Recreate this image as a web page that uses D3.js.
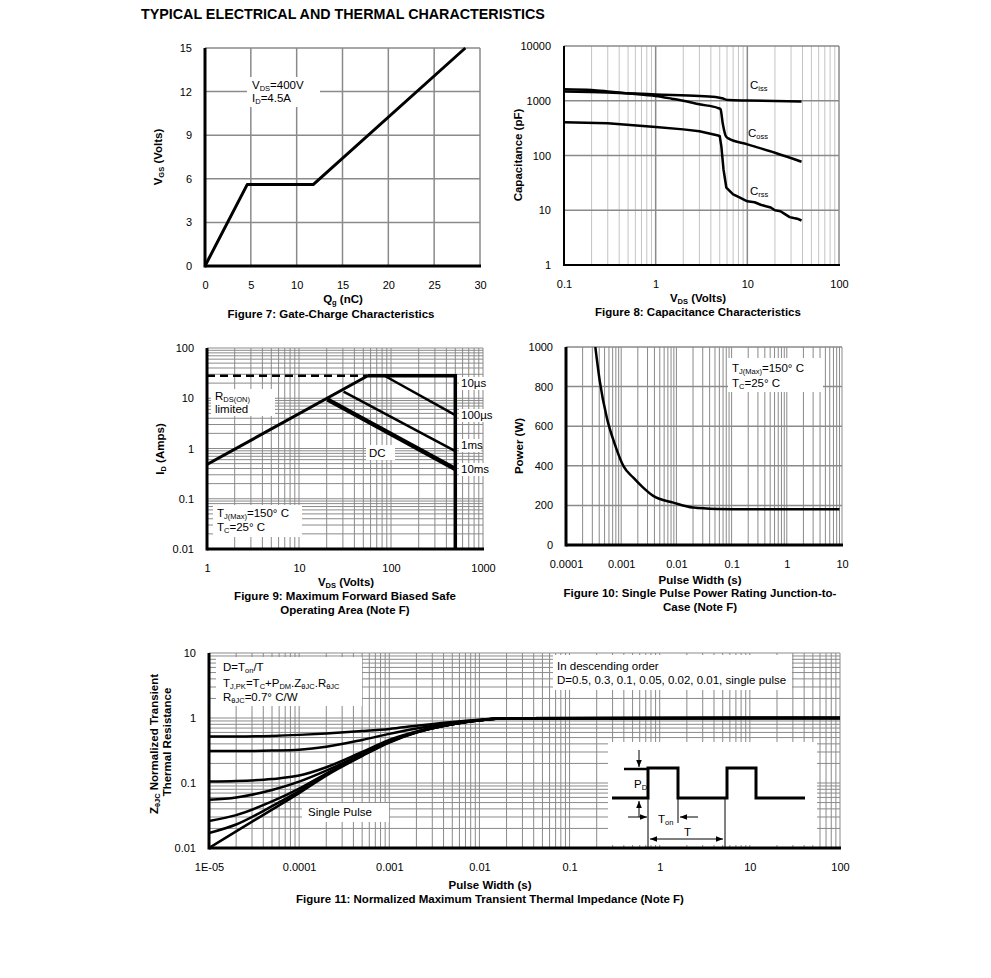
<!DOCTYPE html>
<html>
<head>
<meta charset="utf-8">
<script src="https://cdn.jsdelivr.net/npm/d3@7"></script>
<style>
body { margin: 0; background: #fff; }
svg { display: block; }
text { font-family: "Liberation Sans", Arial, sans-serif; fill: #000; }
.ttl { font-size: 11.5px; font-weight: bold; }
.note { font-size: 11.5px; }
</style>
</head>
<body>
<svg id="chart" width="991" height="978"></svg>
<script>
// ---- Figure 7: gate charge
const qg = [0, 4.6, 11.8, 28.4]
const vgs = [0, 5.6, 5.6, 15]
const qgTicks = [0, 5, 10, 15, 20, 25, 30]
const vgsTicks = [0, 3, 6, 9, 12, 15]

// ---- Figure 8: capacitance
const cissV = [0.1, 0.3, 1, 3, 4.8, 5.3, 6.2, 10, 20, 39]
const ciss = [1480, 1420, 1300, 1220, 1150, 1110, 1030, 1010, 990, 970]
const cossV = [0.1, 0.2, 0.3, 0.5, 1, 1.5, 2, 3, 4.8, 5.1, 5.4, 5.8, 6.2, 10, 20, 39]
const coss = [1630, 1570, 1480, 1360, 1220, 1090, 1000, 860, 735, 700, 380, 230, 205, 160, 112, 77]
const crssV = [0.1, 0.3, 1, 2, 3, 4.8, 5.0, 5.2, 5.5, 5.9, 7, 8, 10, 12, 14, 16, 18, 20, 23, 26, 29, 32, 36, 39]
const crss = [406, 390, 330, 300, 278, 232, 225, 150, 55, 26, 19.5, 17.5, 14.6, 14.0, 12.6, 11.8, 11.2, 10.0, 9.6, 8.4, 7.5, 7.2, 6.9, 6.5]
const capXTicks = [0.1, 1, 10, 100]
const capYTicks = [1, 10, 100, 1000, 10000]

// ---- Figure 9: safe operating area
const soaRdsV = [1, 56], soaRdsI = [0.48, 28]
const soaDashV = [1, 56], soaDashI = [28, 28]
const soa10usV = [56, 500, 500], soa10usI = [28, 28, 0.01]
const soa100usV = [85, 500], soa100usI = [28, 4.6]
const soa1msV = [30.5, 500], soa1msI = [13.5, 0.89]
const soaDcV = [20.3, 500], soaDcI = [9.5, 0.39]
const soaXTicks = [1, 10, 100, 1000]
const soaYTicks = [0.01, 0.1, 1, 10, 100]

// ---- Figure 10: single pulse power
const pwT = [3.4e-4, 4.1e-4, 5.5e-4, 7.7e-4, 1.1e-3, 1.66e-3, 2.5e-3, 3.8e-3, 8.8e-3, 0.02, 0.054, 0.2, 1, 9]
const pwP = [1000, 826, 642, 507, 398, 340, 290, 248, 214, 189, 182, 180, 180, 180]
const pwXTicks = [1e-4, 1e-3, 1e-2, 0.1, 1, 10]
const pwXLabels = ['0.0001', '0.001', '0.01', '0.1', '1', '10']
const pwYTicks = [0, 200, 400, 600, 800, 1000]

// ---- Figure 11: transient thermal impedance
const zthT = [1e-5, 2e-5, 5e-5, 1e-4, 2e-4, 5e-4, 1e-3, 2e-3, 5e-3, 1e-2, 2e-2, 100]
const zthD05 = [0.52, 0.52, 0.53, 0.55, 0.58, 0.63, 0.68, 0.76, 0.87, 0.94, 0.99, 1]
const zthD03 = [0.31, 0.31, 0.315, 0.325, 0.36, 0.46, 0.57, 0.69, 0.84, 0.93, 0.99, 1]
const zthD01 = [0.105, 0.107, 0.115, 0.13, 0.175, 0.3, 0.46, 0.62, 0.81, 0.92, 0.99, 1]
const zthD005 = [0.055, 0.06, 0.078, 0.105, 0.155, 0.28, 0.44, 0.61, 0.8, 0.92, 0.99, 1]
const zthD002 = [0.026, 0.032, 0.052, 0.082, 0.14, 0.27, 0.43, 0.6, 0.8, 0.92, 0.99, 1]
const zthD001 = [0.017, 0.023, 0.044, 0.075, 0.135, 0.265, 0.425, 0.6, 0.8, 0.92, 0.99, 1]
const zthSingle = [0.01, 0.018, 0.039, 0.07, 0.13, 0.26, 0.42, 0.595, 0.8, 0.92, 0.99, 1]
const zthXTicks = [1e-5, 1e-4, 1e-3, 1e-2, 0.1, 1, 10, 100]
const zthXLabels = ['1E-05', '0.0001', '0.001', '0.01', '0.1', '1', '10', '100']
const zthYTicks = [0.01, 0.1, 1, 10]

const GRID = '#8a8a8a'
const GRID_LIGHT = '#c4c4c4'
const svg = d3.select('#chart')

const defs = svg.append('defs')
defs.append('marker')
	.attr('id', 'arr')
	.attr('viewBox', '0 0 10 10')
	.attr('refX', 10).attr('refY', 5)
	.attr('markerWidth', 7).attr('markerHeight', 7)
	.attr('orient', 'auto-start-reverse')
	.append('path').attr('d', 'M0,1 L10,5 L0,9 z').attr('fill', '#000')

// every k*10^e between lo and hi
const logSteps = (lo, hi) => {
	const out = []
	for (let e = Math.floor(Math.log10(lo) + 1e-9); e <= Math.ceil(Math.log10(hi) - 1e-9); e++)
		for (let k = 1; k <= 9; k++) {
			const v = +(k * Math.pow(10, e)).toPrecision(4)
			if (v >= lo * 0.999 && v <= hi * 1.001) out.push(v)
		}
	return out
}

const zip = (a, b) => a.map((v, i) => [v, b[i]])

const vLines = (g, vals, x, y, stroke, w) => g.append('g').selectAll('line').data(vals).join('line')
	.attr('x1', d => x(d)).attr('x2', d => x(d))
	.attr('y1', y.range()[0]).attr('y2', y.range()[1])
	.attr('stroke', stroke).attr('stroke-width', w)

const hLines = (g, vals, x, y, stroke, w) => g.append('g').selectAll('line').data(vals).join('line')
	.attr('y1', d => y(d)).attr('y2', d => y(d))
	.attr('x1', x.range()[0]).attr('x2', x.range()[1])
	.attr('stroke', stroke).attr('stroke-width', w)

const axes = (g, x, y, w) => {
	const [x0] = x.range(), [y1] = y.range()
	g.append('line').attr('x1', x0).attr('x2', x.range()[1] + 1).attr('y1', y1).attr('y2', y1)
		.attr('stroke', '#000').attr('stroke-width', w)
	g.append('line').attr('x1', x0).attr('x2', x0).attr('y1', y1 + w / 2).attr('y2', y.range()[1])
		.attr('stroke', '#000').attr('stroke-width', w)
}

const tickLabels = (g, x, y, xVals, xFmt, yVals, yFmt) => {
	g.append('g')
		.attr('transform', `translate(0,${y.range()[0]})`)
		.call(d3.axisBottom(x).tickValues(xVals).tickFormat(xFmt).tickSize(0).tickPadding(15))
		.call(a => a.select('.domain').remove())
		.attr('font-size', 11).attr('font-family', null)
	g.append('g')
		.attr('transform', `translate(${x.range()[0]},0)`)
		.call(d3.axisLeft(y).tickValues(yVals).tickFormat(yFmt).tickSize(0).tickPadding(13))
		.call(a => a.select('.domain').remove())
		.attr('font-size', 11).attr('font-family', null)
}

// text with subscripts: parts are strings or [subscript]
const rich = (sel, parts, subSize = 7.5) => {
	let shift = 0
	parts.forEach(p => {
		const isSub = Array.isArray(p)
		const want = isSub ? 2 : 0
		const t = sel.append('tspan').text(isSub ? p[0] : p)
		if (want !== shift) { t.attr('dy', want - shift); shift = want }
		if (isSub) t.style('font-size', subSize + 'px')
	})
	return sel
}

const box = (g, x, y, w, h) => g.append('rect').attr('x', x).attr('y', y)
	.attr('width', w).attr('height', h).attr('fill', '#fff')

const note = (g, x, y, parts, cls = 'note') => rich(g.append('text').attr('class', cls)
	.attr('x', x).attr('y', y), parts)

const centered = (x, y, str) => svg.append('text').attr('class', 'ttl')
	.attr('x', x).attr('y', y).attr('text-anchor', 'middle').text(str)

const yTitle = (x, y, parts) => rich(svg.append('text').attr('class', 'ttl')
	.attr('text-anchor', 'middle').attr('transform', `translate(${x},${y}) rotate(-90)`), parts)

const clip = (id, x, y) => {
	defs.append('clipPath').attr('id', id).append('rect')
		.attr('x', x.range()[0]).attr('y', y.range()[1])
		.attr('width', x.range()[1] - x.range()[0]).attr('height', y.range()[0] - y.range()[1])
	return `url(#${id})`
}

const curve = (g, x, y, xs, ys, w, c = d3.curveMonotoneX) => g.append('path')
	.datum(zip(xs, ys))
	.attr('d', d3.line().x(d => x(d[0])).y(d => y(d[1])).curve(c))
	.attr('fill', 'none').attr('stroke', '#000').attr('stroke-width', w)
	.attr('stroke-linejoin', 'round')

// title
svg.append('text').attr('x', 141).attr('y', 19)
	.style('font-size', '14.3px').style('font-weight', 'bold')
	.text('TYPICAL ELECTRICAL AND THERMAL CHARACTERISTICS')

// ======== Figure 7
{
	const x = d3.scaleLinear().domain([0, 30]).range([205, 480])
	const y = d3.scaleLinear().domain([0, 15]).range([266, 48])
	const g = svg.append('g')
	vLines(g, qgTicks.slice(1), x, y, GRID, 1.5)
	hLines(g, vgsTicks.slice(1), x, y, GRID, 1.5)
	box(g, 247, 77, 73, 30)
	note(g, 252, 89, ['V', ['DS'], '=400V'])
	note(g, 252, 102, ['I', ['D'], '=4.5A'])
	curve(g, x, y, qg, vgs, 3, d3.curveLinear)
	axes(g, x, y, 3)
	tickLabels(g, x, y, qgTicks, d => d, vgsTicks, d => d)
	rich(svg.append('text').attr('class', 'ttl').attr('x', 343).attr('y', 303).attr('text-anchor', 'middle'),
		['Q', ['g'], ' (nC)'])
	centered(331, 318, 'Figure 7: Gate-Charge Characteristics')
	yTitle(162, 157, ['V', ['GS'], ' (Volts)'])
}

// ======== Figure 8
{
	const x = d3.scaleLog().domain([0.1, 100]).range([564, 839])
	const y = d3.scaleLog().domain([1, 10000]).range([265, 46])
	const g = svg.append('g')
	vLines(g, logSteps(0.1, 100).filter(v => !capXTicks.includes(v)), x, y, GRID_LIGHT, 1)
	vLines(g, capXTicks.slice(1), x, y, GRID, 1.5)
	hLines(g, capYTicks.slice(1), x, y, GRID, 1.5)
	const cp = clip('c8', x, y)
	curve(g, x, y, cissV, ciss, 2.5).attr('clip-path', cp)
	curve(g, x, y, cossV, coss, 2.5).attr('clip-path', cp)
	curve(g, x, y, crssV, crss, 2.5, d3.curveLinear).attr('clip-path', cp)
	note(g, 750, 89, ['C', ['iss']])
	note(g, 748, 137, ['C', ['oss']])
	note(g, 750, 195, ['C', ['rss']])
	axes(g, x, y, 2)
	tickLabels(g, x, y, capXTicks, d => String(d), capYTicks, d => String(d))
	rich(svg.append('text').attr('class', 'ttl').attr('x', 698).attr('y', 302).attr('text-anchor', 'middle'),
		['V', ['DS'], ' (Volts)'])
	centered(698, 316, 'Figure 8: Capacitance Characteristics')
	yTitle(522, 155, ['Capacitance (pF)'])
}

// ======== Figure 9
{
	const x = d3.scaleLog().domain([1, 1000]).range([207, 483])
	const y = d3.scaleLog().domain([0.01, 100]).range([549, 348])
	const g = svg.append('g')
	vLines(g, logSteps(1, 1000).slice(1), x, y, GRID, 1)
	hLines(g, logSteps(0.01, 100).slice(1), x, y, GRID, 1)
	box(g, 211, 389, 64, 27)
	note(g, 215, 400, ['R', ['DS(ON)']])
	note(g, 215, 413, ['limited'])
	box(g, 213, 505, 89, 32)
	note(g, 217, 517, ['T', ['J(Max)'], '=150° C'])
	note(g, 217, 531, ['T', ['C'], '=25° C'])
	box(g, 366, 445, 29, 15)
	note(g, 369, 457, ['DC'])
	const cp = clip('c9', x, y)
	curve(g, x, y, soaDashV, soaDashI, 2.5, d3.curveLinear).attr('stroke-dasharray', '8,5').attr('clip-path', cp)
	curve(g, x, y, soaRdsV, soaRdsI, 3, d3.curveLinear).attr('clip-path', cp)
	curve(g, x, y, soa100usV, soa100usI, 2.5, d3.curveLinear)
	curve(g, x, y, soa1msV, soa1msI, 2.5, d3.curveLinear)
	curve(g, x, y, soaDcV, soaDcI, 4.5, d3.curveLinear)
	curve(g, x, y, soa10usV, soa10usI, 3.5, d3.curveLinear).attr('stroke-linejoin', 'miter')
	const labs = [['10µs', 387], ['100µs', 419], ['1ms', 449], ['10ms', 473]]
	labs.forEach(([s, yy]) => {
		box(g, 459, yy - 10, s.length * 6.8 + 2, 13)
		note(g, 461, yy, [s])
	})
	axes(g, x, y, 3)
	tickLabels(g, x, y, soaXTicks, d => String(d), soaYTicks, d => String(d))
	rich(svg.append('text').attr('class', 'ttl').attr('x', 346).attr('y', 586).attr('text-anchor', 'middle'),
		['V', ['DS'], ' (Volts)'])
	centered(345, 600, 'Figure 9: Maximum Forward Biased Safe')
	centered(345, 614, 'Operating Area  (Note F)')
	yTitle(164, 449, ['I', ['D'], ' (Amps)'])
}

// ======== Figure 10
{
	const x = d3.scaleLog().domain([1e-4, 10]).range([566, 842])
	const y = d3.scaleLinear().domain([0, 1000]).range([545, 347])
	const g = svg.append('g')
	vLines(g, logSteps(1e-4, 10).slice(1), x, y, GRID, 1)
	hLines(g, pwYTicks.slice(1), x, y, GRID, 1.5)
	box(g, 728, 358, 95, 34)
	note(g, 732, 372, ['T', ['J(Max)'], '=150° C'])
	note(g, 732, 387, ['T', ['C'], '=25° C'])
	curve(g, x, y, pwT, pwP, 2.5).attr('clip-path', clip('c10', x, y))
	axes(g, x, y, 3)
	tickLabels(g, x, y, pwXTicks, (d, i) => pwXLabels[i], pwYTicks, d => d)
	centered(700, 584, 'Pulse Width (s)')
	centered(700, 597, 'Figure 10: Single Pulse Power Rating Junction-to-')
	centered(700, 611, 'Case (Note F)')
	yTitle(523, 446, ['Power (W)'])
}

// ======== Figure 11
{
	const x = d3.scaleLog().domain([1e-5, 100]).range([209, 840])
	const y = d3.scaleLog().domain([0.01, 10]).range([848, 653])
	const g = svg.append('g')
	vLines(g, logSteps(1e-5, 100).slice(1), x, y, GRID, 1)
	hLines(g, logSteps(0.01, 10).slice(1), x, y, GRID, 1)
	box(g, 216, 657, 146, 49)
	note(g, 223, 671, ['D=T', ['on'], '/T'])
	note(g, 223, 687, ['T', ['J,PK'], '=T', ['C'], '+P', ['DM'], '.Z', ['θJC'], '.R', ['θJC']])
	note(g, 223, 701, ['R', ['θJC'], '=0.7° C/W'])
	box(g, 553, 655, 239, 35)
	note(g, 557, 670, ['In descending order'])
	note(g, 557, 684, ['D=0.5, 0.3, 0.1, 0.05, 0.02, 0.01, single pulse'])
	box(g, 302, 803, 87, 19)
	note(g, 308, 816, ['Single Pulse'])
	const cp = clip('c11', x, y)
	;[zthD05, zthD03, zthD01, zthD005, zthD002, zthD001, zthSingle].forEach(s =>
		curve(g, x, y, zthT, s, 2.5).attr('clip-path', cp))

	// pulse-train inset
	const ins = g.append('g').attr('transform', 'translate(608,742)')
	box(ins, 0, 0, 209, 103)
	const thin = (d) => ins.append('path').attr('d', d).attr('fill', 'none').attr('stroke', '#000').attr('stroke-width', 1)
	thin('M40,56 V105 M117,56 V105 M70,56 V81')
	ins.append('path').attr('d', 'M4,56 H40 V26 H70 V56 H119 V26 H148 V56 H197')
		.attr('fill', 'none').attr('stroke', '#000').attr('stroke-width', 3)
	ins.append('path').attr('d', 'M16,27 H40').attr('stroke', '#000').attr('stroke-width', 2.5)
	thin('M31,8 V25').attr('marker-end', 'url(#arr)')
	thin('M31,75 V59').attr('marker-end', 'url(#arr)')
	thin('M20,75 H39').attr('marker-end', 'url(#arr)')
	thin('M90,75 H72').attr('marker-end', 'url(#arr)')
	thin('M42,97 H115').attr('marker-end', 'url(#arr)').attr('marker-start', 'url(#arr)')
	note(ins, 26, 46, ['P', ['D']])
	note(ins, 50, 81, ['T', ['on']])
	note(ins, 76, 94, ['T'])

	axes(g, x, y, 3)
	tickLabels(g, x, y, zthXTicks, (d, i) => zthXLabels[i], zthYTicks, d => String(d))
	centered(490, 889, 'Pulse Width (s)')
	centered(490, 903, 'Figure 11: Normalized Maximum Transient Thermal Impedance (Note F)')
	yTitle(158, 744, ['Z', ['θJC'], ' Normalized Transient'])
	yTitle(171, 742, ['Thermal Resistance'])
}
</script>
</body>
</html>
